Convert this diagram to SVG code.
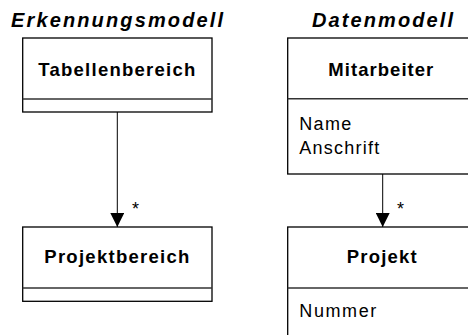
<svg xmlns="http://www.w3.org/2000/svg" width="468" height="335" viewBox="0 0 468 335">
  <style>
    text { font-family: "Liberation Sans", Arial, sans-serif; fill: #000; }
    .title { font-size: 20px; font-weight: bold; font-style: italic; }
    .name { font-size: 18.5px; font-weight: bold; }
    .attr { font-size: 18px; }
    .mult { font-size: 18px; }
    .box { fill: #fff; stroke: #000; stroke-width: 1.3; }
    .div { stroke: #333; stroke-width: 1.6; }
    .edge { stroke: #000; stroke-width: 1; fill: none; }
  </style>
  <defs>
    <marker id="arrow" viewBox="0 0 14 14" refX="14" refY="7" markerWidth="14" markerHeight="14" markerUnits="userSpaceOnUse" orient="auto">
      <path d="M0,0 L14,7 L0,14 Z" fill="#000"/>
    </marker>
  </defs>

  <!-- column headings -->
  <text class="title" x="11" y="26.5" textLength="212" lengthAdjust="spacing">Erkennungsmodell</text>
  <text class="title" x="312" y="26.5" textLength="141" lengthAdjust="spacing">Datenmodell</text>

  <!-- associations -->
  <g id="connectors">
    <line class="edge" x1="117.3" y1="112" x2="117.3" y2="227" marker-end="url(#arrow)"/>
    <text class="mult" x="132" y="215">*</text>
    <line class="edge" x1="382.7" y1="174" x2="382.7" y2="227" marker-end="url(#arrow)"/>
    <text class="mult" x="397" y="215">*</text>
  </g>

  <g id="tabellenbereich">
    <rect class="box" x="22.7" y="38" width="189.3" height="74"/>
    <line class="div" x1="22.7" y1="99" x2="212" y2="99"/>
    <text class="name" x="38.3" y="75.5" textLength="157" lengthAdjust="spacing">Tabellenbereich</text>
  </g>

  <g id="projektbereich">
    <rect class="box" x="22.7" y="227" width="189.3" height="74.3"/>
    <line class="div" x1="22.7" y1="288" x2="212" y2="288"/>
    <text class="name" x="44.3" y="262.5" textLength="145" lengthAdjust="spacing">Projektbereich</text>
  </g>

  <g id="mitarbeiter">
    <rect class="box" x="287.7" y="38" width="190" height="136"/>
    <line class="div" x1="287.7" y1="98.7" x2="477.7" y2="98.7"/>
    <text class="name" x="328.3" y="75.5" textLength="105" lengthAdjust="spacing">Mitarbeiter</text>
    <text class="attr" x="299.3" y="130" textLength="52" lengthAdjust="spacing">Name</text>
    <text class="attr" x="299.3" y="153.5" textLength="80" lengthAdjust="spacing">Anschrift</text>
  </g>

  <g id="projekt">
    <rect class="box" x="287.7" y="227" width="190" height="120"/>
    <line class="div" x1="287.7" y1="288" x2="477.7" y2="288"/>
    <text class="name" x="346.7" y="262.5" textLength="70" lengthAdjust="spacing">Projekt</text>
    <text class="attr" x="299.3" y="317" textLength="77" lengthAdjust="spacing">Nummer</text>
  </g>
</svg>
